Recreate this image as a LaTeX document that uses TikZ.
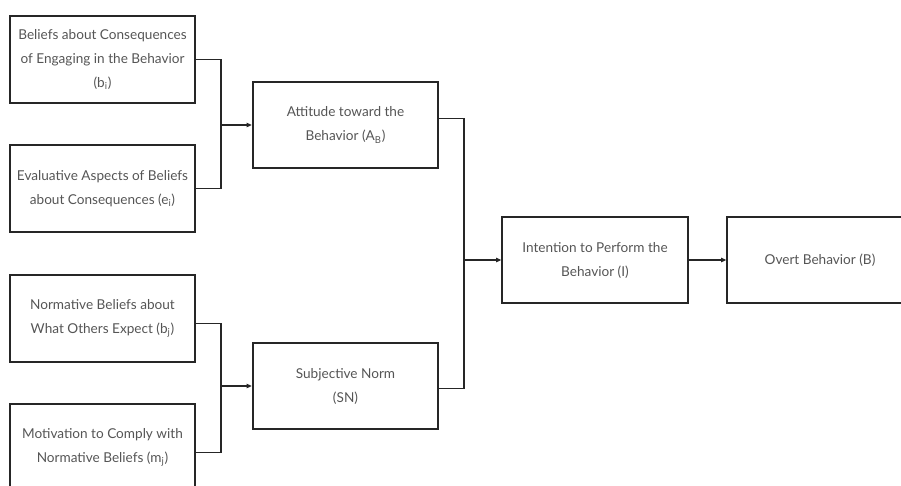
\documentclass[tikz,border=0pt]{standalone}
\usepackage{fontspec}
\setmainfont{Lato}
\usetikzlibrary{arrows.meta}
\definecolor{txtgray}{HTML}{555555}
\definecolor{linedark}{HTML}{262626}
\begin{document}
\begin{tikzpicture}[x=0.75pt,y=-0.75pt,
  box/.style={draw=linedark,line width=1.5pt,minimum width=139pt,minimum height=65pt,
    align=center,text=txtgray,font=\fontsize{10.2}{18}\selectfont,inner sep=0pt},
  link/.style={draw=linedark,line width=0.8pt},
  feed/.style={link,-{Triangle[length=4pt,width=3.4pt]}}]
\useasboundingbox (0,0) rectangle (901,486);
\clip (0,0) rectangle (901,486);

% belief boxes on the left
\node[box] (b1) at (102.5,59.5) {Beliefs about Consequences\\of Engaging in the Behavior\\(b\textsubscript{i})};
\node[box] (b2) at (102.5,188.5) {Evaluative Aspects of Beliefs\\about Consequences (e\textsubscript{i})};
\node[box] (b3) at (102.5,318.5) {Normative Beliefs about\\What Others Expect (b\textsubscript{j})};
\node[box] (b4) at (102.5,447.5) {Motivation to Comply with\\Normative Beliefs (m\textsubscript{j})};

% attitude and norm
\node[box] (att) at (345.5,125) {Attitude toward the\\Behavior (A\textsubscript{B})};
\node[box] (sn) at (345.5,386) {Subjective Norm\\(SN)};

% intention and behaviour
\node[box] (int) at (595,260) {Intention to Perform the\\Behavior (I)};
\node[box] (ovt) at (820,260) {Overt Behavior (B)};

% junction points
\coordinate (j1) at (221,125);
\coordinate (j2) at (221,386);
\coordinate (j3) at (464,260);

\draw[link] (b1.east) -| (j1) |- (b2.east);
\draw[feed] (j1) -- (att.west);

\draw[link] ([yshift=-4pt]b3.east) -| (j2) |- ([yshift=-4pt]b4.east);
\draw[feed] (j2) -- (sn.west);

\draw[link] ([yshift=5pt]att.east) -| (j3) |- ([yshift=-2pt]sn.east);
\draw[feed] (j3) -- (int.west);

\draw[feed] (int.east) -- (ovt.west);
\end{tikzpicture}
\end{document}
